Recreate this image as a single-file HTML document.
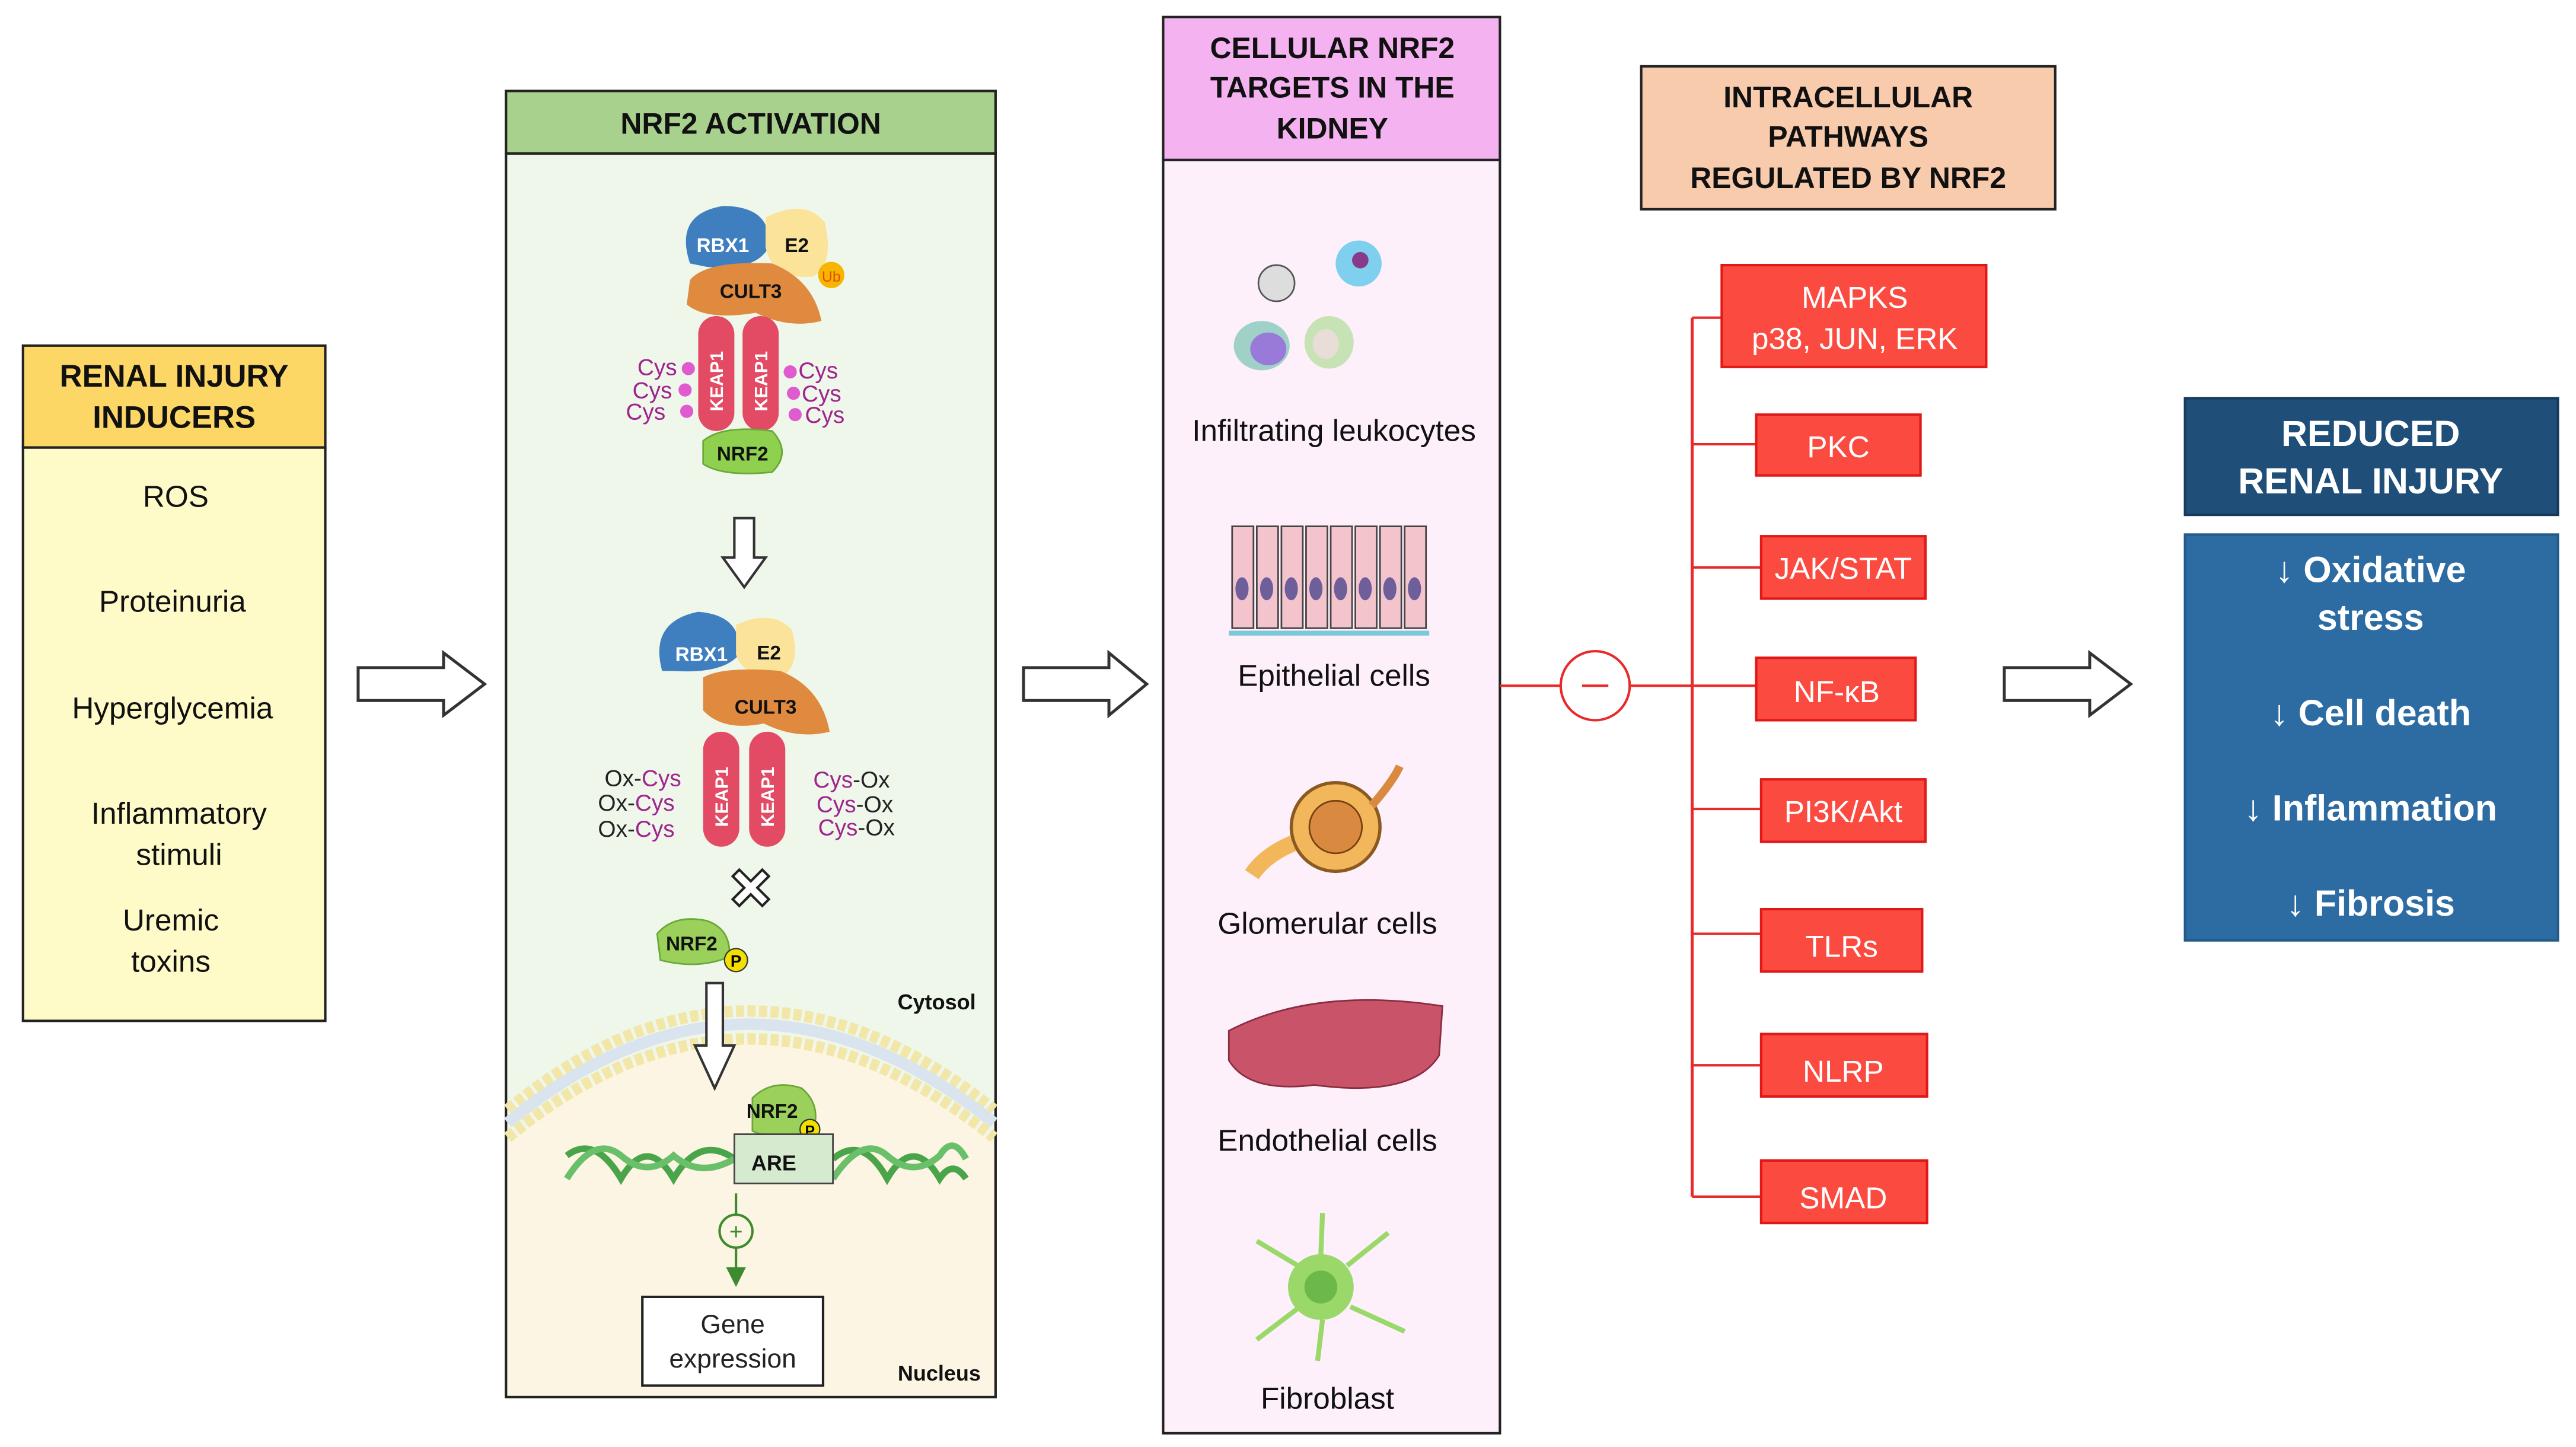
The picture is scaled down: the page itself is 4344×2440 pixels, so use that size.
<!DOCTYPE html>
<html><head><meta charset="utf-8"><style>
html,body{margin:0;padding:0;background:#fff;}
svg{display:block;}
text{font-family:"Liberation Sans",Arial,sans-serif;}
</style></head><body>
<svg width="4344" height="2440" viewBox="0 0 1568 880" xmlns="http://www.w3.org/2000/svg">
<defs>
<marker id="ga" markerWidth="8" markerHeight="8" refX="4" refY="4" orient="auto"><path d="M0,0 L8,4 L0,8z" fill="#3d8b2e"/></marker>
</defs>
<rect x="14" y="272" width="184" height="349" fill="#fefbc9" stroke="#222" stroke-width="1.5"/>
<rect x="14" y="210" width="184" height="62" fill="#fdd766" stroke="#222" stroke-width="1.5"/>
<g font-weight="bold" font-size="19" text-anchor="middle" fill="#111"><text x="106" y="235">RENAL INJURY</text><text x="106" y="260">INDUCERS</text></g>
<g font-size="18.5" text-anchor="middle" fill="#111">
<text x="107" y="308">ROS</text><text x="105" y="372">Proteinuria</text><text x="105" y="437">Hyperglycemia</text>
<text x="109" y="501">Inflammatory</text><text x="109" y="526">stimuli</text><text x="104" y="566">Uremic</text><text x="104" y="591">toxins</text></g>
<g fill="#fff" stroke="#333" stroke-width="1.8">
<path d="M218,406 H270 V397 L295,416 L270,435 V426 H218z"/>
<path d="M623,406 H675 V397 L698,416 L675,435 V426 H623z"/>
<path d="M1220,406 H1272 V397 L1297,416 L1272,435 V426 H1220z"/>
</g>
<rect x="308" y="93" width="298" height="757" fill="#eef7ea" stroke="#222" stroke-width="1.5"/>
<path d="M309,695 Q455,570 605,695 V849 H309z" fill="#fdf5e3"/>
<path d="M309,675 Q455,555 605,675" fill="none" stroke="#f2e7a8" stroke-width="7" stroke-dasharray="5 2"/>
<path d="M309,692 Q455,572 605,692" fill="none" stroke="#f2e7a8" stroke-width="7" stroke-dasharray="5 2"/>
<path d="M309,683 Q455,563 605,683" fill="none" stroke="#d9e4ee" stroke-width="7"/>
<rect x="308" y="55" width="298" height="38" fill="#a9d18e" stroke="#222" stroke-width="1.5"/>
<text x="457" y="81" font-weight="bold" font-size="18" text-anchor="middle" fill="#111">NRF2 ACTIVATION</text>
<path d="M420,160 Q410,130 440,125 Q470,125 468,150 Q460,165 430,162z" fill="#3f7fbf"/>
<path d="M466,132 Q490,120 502,135 Q508,160 495,168 Q470,170 466,150z" fill="#fbe39a"/>
<circle cx="506" cy="167" r="8" fill="#f7b500"/><text x="506" y="171" font-size="9" text-anchor="middle" fill="#e05000">Ub</text>
<path d="M420,170 Q430,158 470,160 Q495,170 500,195 Q480,200 460,190 Q430,195 418,185z" fill="#df8a3f"/>
<text x="440" y="153" font-size="12" font-weight="bold" fill="#fff" text-anchor="middle">RBX1</text>
<text x="485" y="153" font-size="12" font-weight="bold" fill="#111" text-anchor="middle">E2</text>
<text x="457" y="181" font-size="12" font-weight="bold" fill="#111" text-anchor="middle">CULT3</text>
<rect x="425" y="192" width="22" height="70" rx="11" fill="#e34a63"/><rect x="452" y="192" width="22" height="70" rx="11" fill="#e34a63"/>
<text transform="translate(440,250) rotate(-90)" font-size="11" font-weight="bold" fill="#fff">KEAP1</text>
<text transform="translate(467,250) rotate(-90)" font-size="11" font-weight="bold" fill="#fff">KEAP1</text>
<g font-size="14" fill="#a0248e"><text x="388" y="228">Cys</text><text x="385" y="242">Cys</text><text x="381" y="255">Cys</text><text x="486" y="230">Cys</text><text x="488" y="244">Cys</text><text x="490" y="257">Cys</text></g>
<g fill="#e05ad0"><circle cx="419" cy="224" r="4"/><circle cx="417" cy="237" r="4"/><circle cx="418" cy="250" r="4"/><circle cx="481" cy="226" r="4"/><circle cx="483" cy="239" r="4"/><circle cx="484" cy="252" r="4"/></g>
<path d="M428,268 Q440,258 470,262 Q482,275 470,287 Q440,290 428,282z" fill="#8fd14f" stroke="#6aa83a"/>
<text x="452" y="280" font-size="12" font-weight="bold" text-anchor="middle" fill="#111">NRF2</text>
<path d="M447,315 h12 v24 h7 l-13,18 l-13,-18 h7z" fill="#fff" stroke="#333" stroke-width="1.5"/>
<path d="M403,408 Q395,378 425,372 Q452,374 450,398 Q440,410 410,408z" fill="#3f7fbf"/>
<path d="M448,380 Q470,370 482,383 Q488,405 475,412 Q452,412 448,398z" fill="#fbe39a"/>
<path d="M428,412 Q440,405 475,408 Q500,418 505,445 Q485,450 465,440 Q440,445 428,432z" fill="#df8a3f"/>
<text x="427" y="402" font-size="12" font-weight="bold" fill="#fff" text-anchor="middle">RBX1</text>
<text x="468" y="401" font-size="12" font-weight="bold" fill="#111" text-anchor="middle">E2</text>
<text x="466" y="434" font-size="12" font-weight="bold" fill="#111" text-anchor="middle">CULT3</text>
<rect x="428" y="445" width="22" height="70" rx="11" fill="#e34a63"/><rect x="456" y="445" width="22" height="70" rx="11" fill="#e34a63"/>
<text transform="translate(443,503) rotate(-90)" font-size="11" font-weight="bold" fill="#fff">KEAP1</text>
<text transform="translate(471,503) rotate(-90)" font-size="11" font-weight="bold" fill="#fff">KEAP1</text>
<g font-size="14"><text x="368" y="478"><tspan fill="#222">Ox-</tspan><tspan fill="#a0248e">Cys</tspan></text><text x="364" y="493"><tspan fill="#222">Ox-</tspan><tspan fill="#a0248e">Cys</tspan></text><text x="364" y="509"><tspan fill="#222">Ox-</tspan><tspan fill="#a0248e">Cys</tspan></text>
<text x="495" y="479"><tspan fill="#a0248e">Cys</tspan><tspan fill="#222">-Ox</tspan></text><text x="497" y="494"><tspan fill="#a0248e">Cys</tspan><tspan fill="#222">-Ox</tspan></text><text x="498" y="508"><tspan fill="#a0248e">Cys</tspan><tspan fill="#222">-Ox</tspan></text></g>
<path d="M446,533 l4,-4 l7,7 l7,-7 l4,4 l-7,7 l7,7 l-4,4 l-7,-7 l-7,7 l-4,-4 l7,-7z" fill="#fff" stroke="#222" stroke-width="1.5"/>
<path d="M400,568 Q410,556 430,560 Q445,565 444,582 Q425,590 402,584z" fill="#9bd05a" stroke="#6aa83a"/>
<text x="421" y="578" font-size="12" font-weight="bold" text-anchor="middle" fill="#111">NRF2</text>
<circle cx="448" cy="584" r="7" fill="#f3e000" stroke="#333" stroke-width="0.8"/><text x="448" y="588" font-size="10" font-weight="bold" text-anchor="middle">P</text>
<path d="M430,598 h10 v38 h7 l-12,26 l-12,-26 h7z" fill="#fff" stroke="#333" stroke-width="1.5"/>
<text x="594" y="614" font-size="13" font-weight="bold" text-anchor="end" fill="#111">Cytosol</text>
<path d="M345,703 Q362,690 378,717 Q394,690 410,717 Q426,690 447,705" fill="none" stroke="#4aa54a" stroke-width="4"/>
<path d="M345,717 Q362,690 378,703 Q394,717 410,703 Q426,717 447,705" fill="none" stroke="#6ac06a" stroke-width="4"/>
<path d="M507,705 Q525,690 540,717 Q556,690 572,717 Q580,705 588,717" fill="none" stroke="#4aa54a" stroke-width="4"/>
<path d="M507,717 Q525,690 540,703 Q556,717 572,703 Q580,690 588,705" fill="none" stroke="#6ac06a" stroke-width="4"/>
<path d="M458,668 Q470,656 488,662 Q500,672 495,688 Q470,694 458,688z" fill="#9bd05a" stroke="#6aa83a"/>
<text x="470" y="680" font-size="12" font-weight="bold" text-anchor="middle" fill="#111">NRF2</text>
<circle cx="493" cy="687" r="6" fill="#f3e000" stroke="#333" stroke-width="0.8"/><text x="493" y="691" font-size="9" font-weight="bold" text-anchor="middle">P</text>
<rect x="447" y="690" width="60" height="30" fill="#d6ead0" stroke="#444" stroke-width="1"/>
<text x="471" y="712" font-size="13" font-weight="bold" text-anchor="middle" fill="#111">ARE</text>
<line x1="448" y1="726" x2="448" y2="739" stroke="#3d8b2e" stroke-width="1.5"/>
<circle cx="448" cy="749" r="10" fill="none" stroke="#3d8b2e" stroke-width="1.5"/>
<text x="448" y="754" font-size="14" text-anchor="middle" fill="#3d8b2e">+</text>
<line x1="448" y1="759" x2="448" y2="777" stroke="#3d8b2e" stroke-width="1.5" marker-end="url(#ga)"/>
<rect x="391" y="789" width="110" height="54" fill="#fff" stroke="#222" stroke-width="1.5"/>
<text x="446" y="811" font-size="16" text-anchor="middle" fill="#222">Gene</text><text x="446" y="832" font-size="16" text-anchor="middle" fill="#222">expression</text>
<text x="597" y="840" font-size="13" font-weight="bold" text-anchor="end" fill="#111">Nucleus</text>
<rect x="708" y="97" width="205" height="775" fill="#fdf0fb" stroke="#222" stroke-width="1.5"/>
<rect x="708" y="10" width="205" height="87" fill="#f4b3f0" stroke="#222" stroke-width="1.5"/>
<g font-weight="bold" font-size="18" text-anchor="middle" fill="#111"><text x="811" y="35">CELLULAR NRF2</text><text x="811" y="59">TARGETS IN THE</text><text x="811" y="84">KIDNEY</text></g>
<g font-size="18.5" text-anchor="middle" fill="#111"><text x="812" y="268">Infiltrating leukocytes</text><text x="812" y="417">Epithelial cells</text><text x="808" y="568">Glomerular cells</text><text x="808" y="700">Endothelial cells</text><text x="808" y="857">Fibroblast</text></g>
<circle cx="777" cy="172" r="11" fill="#ddd" stroke="#555"/><circle cx="827" cy="160" r="14" fill="#7fd0ee"/><circle cx="828" cy="158" r="5" fill="#8a3a8a"/>
<ellipse cx="768" cy="210" rx="17" ry="15" fill="#9fd1c9"/><ellipse cx="772" cy="212" rx="11" ry="10" fill="#9a7ad9"/>
<ellipse cx="809" cy="208" rx="15" ry="16" fill="#c7e3b5"/><ellipse cx="807" cy="209" rx="8" ry="9" fill="#e9ddd7"/>
<g fill="#f3c4cc" stroke="#444" stroke-width="1">
<rect x="750" y="320" width="13" height="62"/><rect x="765" y="320" width="13" height="62"/><rect x="780" y="320" width="13" height="62"/><rect x="795" y="320" width="13" height="62"/><rect x="810" y="320" width="13" height="62"/><rect x="825" y="320" width="13" height="62"/><rect x="840" y="320" width="13" height="62"/><rect x="855" y="320" width="13" height="62"/></g>
<g fill="#6e5f9b"><ellipse cx="756" cy="358" rx="4" ry="7"/><ellipse cx="771" cy="358" rx="4" ry="7"/><ellipse cx="786" cy="358" rx="4" ry="7"/><ellipse cx="801" cy="358" rx="4" ry="7"/><ellipse cx="816" cy="358" rx="4" ry="7"/><ellipse cx="831" cy="358" rx="4" ry="7"/><ellipse cx="846" cy="358" rx="4" ry="7"/><ellipse cx="861" cy="358" rx="4" ry="7"/></g>
<line x1="748" y1="385" x2="870" y2="385" stroke="#7cc8d8" stroke-width="3"/>
<circle cx="813" cy="503" r="27" fill="#f2b75a" stroke="#8a5a20" stroke-width="2"/><circle cx="813" cy="503" r="16" fill="#d98a40" stroke="#7a4010"/>
<path d="M787,513 Q770,520 762,532" stroke="#f2b75a" stroke-width="10" fill="none"/><path d="M835,490 Q848,475 852,466" stroke="#d98a40" stroke-width="5" fill="none"/>
<path d="M748,627 Q800,600 878,612 L876,642 Q860,668 800,660 Q760,665 748,645z" fill="#c9546a" stroke="#8a2d40"/>
<circle cx="804" cy="783" r="20" fill="#9bd86a"/><circle cx="804" cy="783" r="10" fill="#6cb84a"/>
<g stroke="#9bd86a" stroke-width="3" fill="none"><path d="M790,770 L765,755"/><path d="M820,770 L845,750"/><path d="M822,795 L855,810"/><path d="M790,796 L765,815"/><path d="M804,763 L805,738"/><path d="M805,803 L802,828"/></g>
<line x1="913" y1="417" x2="1030" y2="417" stroke="#e82a2a" stroke-width="1.5"/>
<circle cx="971" cy="417" r="21" fill="#fff" stroke="#e82a2a" stroke-width="1.5"/>
<line x1="963" y1="417" x2="979" y2="417" stroke="#e82a2a" stroke-width="1.5"/>
<line x1="1030" y1="193" x2="1030" y2="728" stroke="#e82a2a" stroke-width="1.8"/>
<g stroke="#e82a2a" stroke-width="1.5"><line x1="1030" y1="193" x2="1048" y2="193"/><line x1="1030" y1="270" x2="1069" y2="270"/><line x1="1030" y1="345" x2="1072" y2="345"/><line x1="1030" y1="417" x2="1069" y2="417"/><line x1="1030" y1="492" x2="1072" y2="492"/><line x1="1030" y1="568" x2="1072" y2="568"/><line x1="1030" y1="648" x2="1072" y2="648"/><line x1="1030" y1="728" x2="1072" y2="728"/></g>
<rect x="999" y="40" width="252" height="87" fill="#f8cbad" stroke="#222" stroke-width="1.5"/>
<g font-weight="bold" font-size="18" text-anchor="middle" fill="#111"><text x="1125" y="65">INTRACELLULAR</text><text x="1125" y="89">PATHWAYS</text><text x="1125" y="114">REGULATED BY NRF2</text></g>
<g fill="#fb4b40" stroke="#e01818" stroke-width="1.5">
<rect x="1048" y="161" width="161" height="62"/><rect x="1069" y="252" width="100" height="37"/><rect x="1072" y="326" width="100" height="38"/><rect x="1069" y="400" width="97" height="38"/><rect x="1072" y="474" width="100" height="38"/><rect x="1072" y="553" width="98" height="38"/><rect x="1072" y="629" width="101" height="38"/><rect x="1072" y="706" width="101" height="38"/></g>
<g font-size="18.5" text-anchor="middle" fill="#fff"><text x="1129" y="187">MAPKS</text><text x="1129" y="212">p38, JUN, ERK</text><text x="1119" y="278">PKC</text><text x="1122" y="352">JAK/STAT</text><text x="1118" y="427">NF-κB</text><text x="1122" y="500">PI3K/Akt</text><text x="1121" y="582">TLRs</text><text x="1122" y="658">NLRP</text><text x="1122" y="735">SMAD</text></g>
<rect x="1330" y="242" width="227" height="71" fill="#1f4e79" stroke="#163a5c" stroke-width="1.5"/>
<rect x="1330" y="325" width="227" height="247" fill="#2d6ca3" stroke="#245a88" stroke-width="1.5"/>
<g font-weight="bold" font-size="22" text-anchor="middle" fill="#fff"><text x="1443" y="271">REDUCED</text><text x="1443" y="300">RENAL INJURY</text>
<text x="1443" y="354">↓ Oxidative</text><text x="1443" y="383">stress</text><text x="1443" y="441">↓  Cell death</text><text x="1443" y="499">↓ Inflammation</text><text x="1443" y="557">↓ Fibrosis</text></g>
</svg>
</body></html>
